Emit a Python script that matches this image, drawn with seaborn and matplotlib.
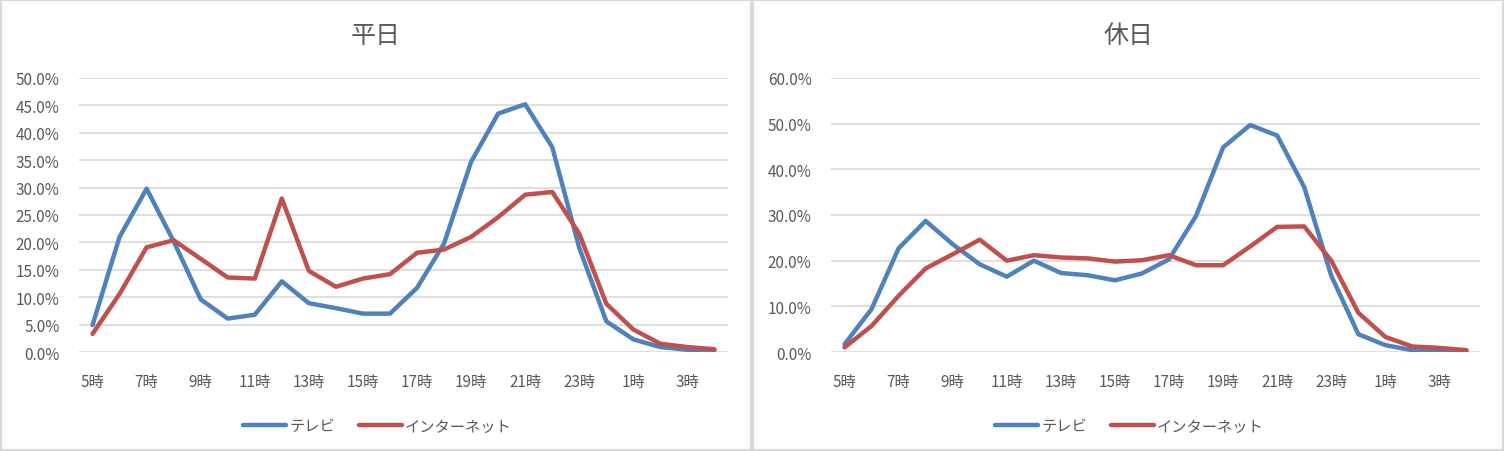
#!/usr/bin/env python3
"""
Hourly TV / internet usage rates, weekday vs holiday.
"""

import numpy as np
import pandas as pd
import matplotlib
matplotlib.use("Agg")
import matplotlib.pyplot as plt
from matplotlib.patches import Rectangle
from matplotlib.ticker import FuncFormatter, MultipleLocator
import seaborn as sns

# hours on the x axis, 5時 through 4時 the next morning
hours = [5, 6, 7, 8, 9, 10, 11, 12, 13, 14, 15, 16, 17, 18, 19, 20, 21, 22, 23, 0, 1, 2, 3, 4]
hour_labels = [f"{h}時" for h in hours]
series_names = ["テレビ", "インターネット"]

# usage rates in percent
weekday_tv = [4.9, 21.0, 29.8, 20.2, 9.6, 6.1, 6.8, 12.9, 8.9, 8.0, 7.0, 7.0,
              11.7, 19.8, 34.7, 43.5, 45.2, 37.4, 19.0, 5.6, 2.3, 0.9, 0.4, 0.3]
weekday_net = [3.3, 10.6, 19.1, 20.4, 17.0, 13.6, 13.4, 28.0, 14.8, 11.9, 13.4, 14.2,
               18.1, 18.7, 21.0, 24.6, 28.7, 29.2, 21.6, 8.8, 4.1, 1.5, 0.9, 0.5]
holiday_tv = [1.7, 9.4, 22.7, 28.7, 23.6, 19.2, 16.5, 20.0, 17.3, 16.8, 15.7, 17.2,
              20.3, 29.8, 44.8, 49.7, 47.4, 36.1, 16.7, 3.9, 1.5, 0.4, 0.3, 0.2]
holiday_net = [1.0, 5.7, 12.3, 18.3, 21.4, 24.6, 20.0, 21.2, 20.7, 20.5, 19.8, 20.1,
               21.2, 19.0, 19.0, 23.1, 27.4, 27.5, 20.0, 8.6, 3.3, 1.2, 0.9, 0.4]

panels = [
    ("平日", weekday_tv, weekday_net, 50, 5),
    ("休日", holiday_tv, holiday_net, 60, 10),
]

sns.set_theme(style="white")
plt.rcParams['font.family'] = ['Noto Sans CJK JP', 'DejaVu Sans']

TEXT = "#595959"
GRID = "#d9d9d9"
palette = {"テレビ": "#4f81bd", "インターネット": "#c0504d"}

W, H = 1504, 452
fig = plt.figure(figsize=(W / 100, H / 100), dpi=100)

# chart boxes, one per panel, like two Excel charts side by side
box_left = [0, 752]
axes_left = [79, 831]
for x0 in box_left:
    fig.add_artist(Rectangle(((x0 + 1) / W, 1 / H), 750 / W, (H - 2) / H,
                             transform=fig.transFigure, fill=False,
                             ec=GRID, lw=1.6))

for (title, tv, net, ymax, step), left, x0 in zip(panels, axes_left, box_left):
    ax = fig.add_axes([left / W, 1 - 353 / H, 649 / W, 274 / H])

    df = pd.DataFrame({
        "x": list(range(len(hours))) * 2,
        "value": tv + net,
        "series": [series_names[0]] * len(hours) + [series_names[1]] * len(hours),
    })
    sns.lineplot(data=df, x="x", y="value", hue="series", palette=palette,
                 linewidth=3.2, ax=ax, legend=True)

    ax.set_xlim(-0.5, len(hours) - 0.5)
    ax.set_ylim(0, ymax)
    ax.set_xticks(range(0, len(hours), 2))
    ax.set_xticklabels(hour_labels[::2])
    ax.yaxis.set_major_locator(MultipleLocator(step))
    ax.yaxis.set_major_formatter(FuncFormatter(lambda v, _: f"{v:.1f}%"))
    ax.tick_params(axis="both", length=0, labelsize=11, labelcolor=TEXT)
    ax.tick_params(axis="y", pad=14)
    ax.tick_params(axis="x", pad=15)
    ax.grid(axis="y", color=GRID, lw=1.2)
    ax.set_axisbelow(True)
    for s in ax.spines.values():
        s.set_visible(False)
    ax.set_xlabel("")
    ax.set_ylabel("")

    # title is centred on the whole chart box, not the plot area
    fig.text((x0 + 376) / W, 1 - 36 / H, title, fontsize=18, color=TEXT,
             ha="center", va="center")

    handles, labels = ax.get_legend_handles_labels()
    ax.legend(handles, labels, loc="center", bbox_to_anchor=(0.46, -0.27),
              ncol=2, frameon=False, fontsize=11, labelcolor=TEXT,
              handlelength=2.8, handletextpad=0.2, columnspacing=1.6)

fig.savefig("out.png", dpi=100)
